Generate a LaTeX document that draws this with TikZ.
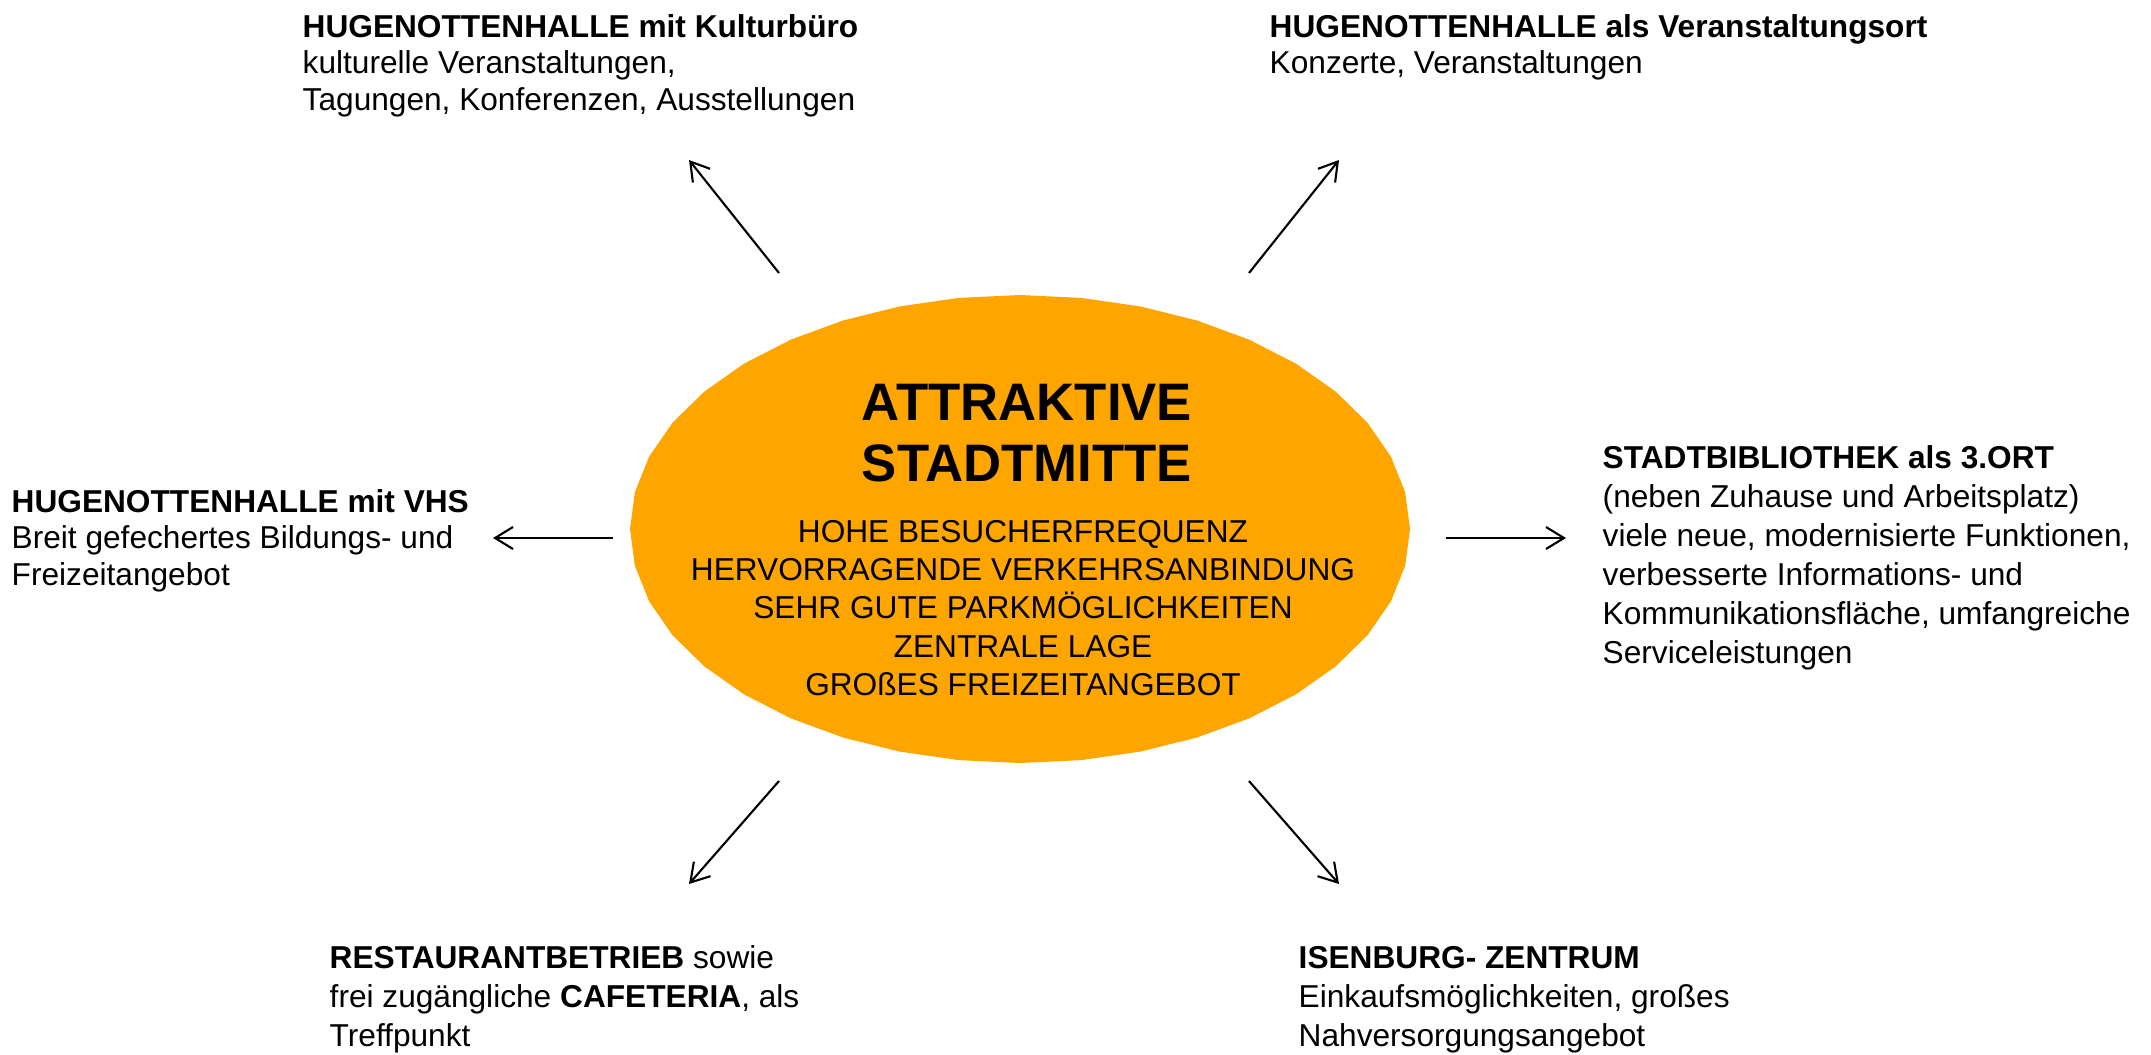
\documentclass[tikz,border=0pt]{standalone}
\usepackage{fontspec}
\setmainfont{Liberation Sans}
\usetikzlibrary{arrows.meta}
\definecolor{hubfill}{RGB}{255,165,0}
\begin{document}
\begin{tikzpicture}[x=0.01cm,y=-0.01cm,
  info/.style={anchor=base west, inner sep=0pt, font=\fontsize{9pt}{10.5pt}\selectfont},
  infowide/.style={info, font=\fontsize{9pt}{11.1pt}\selectfont},
  hubtitle/.style={anchor=base, inner sep=0pt, font=\fontsize{15pt}{17.6pt}\selectfont\bfseries},
  hubtext/.style={anchor=base, inner sep=0pt, font=\fontsize{9pt}{10.9pt}\selectfont},
  link/.style={line width=0.6pt, -{Straight Barb[length=1.8mm,width=2.2mm]}}]
\useasboundingbox (0,0) rectangle (2151,1054);

% central orange hub (faceted oval)
\fill[hubfill] plot[samples=41, domain=0:360, variable=\t]
  ({1020+390*cos(\t)},{529+234*sin(\t)}) -- cycle;
\node[hubtitle] (hubhead) at (1027,420)
  {\begin{tabular}[t]{@{}c@{}}ATTRAKTIVE\\STADTMITTE\end{tabular}};
\node[hubtext] (hubbody) at (1023,542)
  {\begin{tabular}[t]{@{}c@{}}HOHE BESUCHERFREQUENZ\\HERVORRAGENDE VERKEHRSANBINDUNG\\SEHR GUTE PARKMÖGLICHKEITEN\\ZENTRALE LAGE\\GROßES FREIZEITANGEBOT\end{tabular}};

% surrounding offers
\node[info] (kultur) at (302,37)
  {\begin{tabular}[t]{@{}l@{}}\textbf{HUGENOTTENHALLE mit Kulturbüro}\\kulturelle Veranstaltungen,\\Tagungen, Konferenzen, Ausstellungen\end{tabular}};
\node[info] (ort) at (1269,37)
  {\begin{tabular}[t]{@{}l@{}}\textbf{HUGENOTTENHALLE als Veranstaltungsort}\\Konzerte, Veranstaltungen\end{tabular}};
\node[info] (vhs) at (11,512)
  {\begin{tabular}[t]{@{}l@{}}\textbf{HUGENOTTENHALLE mit VHS}\\Breit gefechertes Bildungs- und\\Freizeitangebot\end{tabular}};
\node[infowide] (bib) at (1602,468)
  {\begin{tabular}[t]{@{}l@{}}\textbf{STADTBIBLIOTHEK als 3.ORT}\\(neben Zuhause und Arbeitsplatz)\\viele neue, modernisierte Funktionen,\\verbesserte Informations- und\\Kommunikationsfläche, umfangreiche\\Serviceleistungen\end{tabular}};
\node[infowide] (cafe) at (329,968)
  {\begin{tabular}[t]{@{}l@{}}\textbf{RESTAURANTBETRIEB} sowie\\frei zugängliche \textbf{CAFETERIA}, als\\Treffpunkt\end{tabular}};
\node[infowide] (isen) at (1298,968)
  {\begin{tabular}[t]{@{}l@{}}\textbf{ISENBURG- ZENTRUM}\\Einkaufsmöglichkeiten, großes\\Nahversorgungsangebot\end{tabular}};

% arrow ends
\coordinate (tlA) at (779,273);  \coordinate (tlB) at (689,160);
\coordinate (trA) at (1249,273); \coordinate (trB) at (1339,160);
\coordinate (lA)  at (613,538);  \coordinate (lB)  at (493,538);
\coordinate (rA)  at (1446,538); \coordinate (rB)  at (1566,538);
\coordinate (blA) at (779,781);  \coordinate (blB) at (689,884);
\coordinate (brA) at (1249,781); \coordinate (brB) at (1339,884);

\draw[link] (tlA) -- (tlB);
\draw[link] (trA) -- (trB);
\draw[link] (lA) -- (lB);
\draw[link] (rA) -- (rB);
\draw[link] (blA) -- (blB);
\draw[link] (brA) -- (brB);
\end{tikzpicture}
\end{document}
